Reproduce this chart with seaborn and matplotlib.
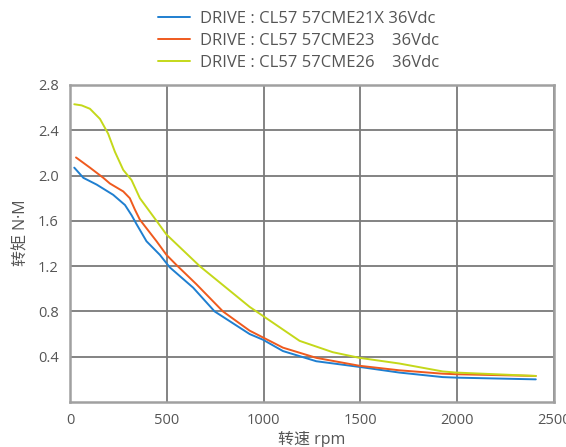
import matplotlib
matplotlib.use("Agg")
import matplotlib.pyplot as plt
import seaborn as sns
import pandas as pd

labels = ["DRIVE : CL57 57CME21X 36Vdc",
          "DRIVE : CL57 57CME23    36Vdc",
          "DRIVE : CL57 57CME26    36Vdc"]
colors = ["#1f7fd0", "#ef5a1e", "#c4d81a"]

blue_x = [22, 69, 138, 223, 284, 318, 344, 395, 464, 515, 636, 747, 928, 997, 1100, 1272, 1495, 1701, 1925, 2000, 2406]
blue_y = [2.07, 1.98, 1.92, 1.83, 1.74, 1.65, 1.57, 1.42, 1.30, 1.19, 1.01, 0.80, 0.60, 0.55, 0.45, 0.36, 0.31, 0.26, 0.22, 0.215, 0.20]

orange_x = [31, 103, 172, 206, 275, 309, 335, 361, 447, 498, 550, 653, 790, 928, 997, 1100, 1272, 1495, 1701, 1925, 2000, 2406]
orange_y = [2.16, 2.07, 1.98, 1.93, 1.86, 1.80, 1.70, 1.61, 1.42, 1.30, 1.21, 1.04, 0.80, 0.63, 0.57, 0.48, 0.39, 0.32, 0.28, 0.25, 0.245, 0.23]

green_x = [22, 60, 103, 155, 197, 232, 275, 318, 361, 447, 498, 670, 928, 997, 1186, 1357, 1495, 1701, 1925, 1993, 2406]
green_y = [2.63, 2.62, 2.59, 2.50, 2.37, 2.21, 2.05, 1.96, 1.80, 1.60, 1.48, 1.20, 0.84, 0.76, 0.54, 0.44, 0.39, 0.34, 0.27, 0.26, 0.23]

x_ticks = [0, 500, 1000, 1500, 2000, 2500]
y_ticks = [0.4, 0.8, 1.2, 1.6, 2.0, 2.4, 2.8]

frames = []
for lab, xs, ys in zip(labels, [blue_x, orange_x, green_x], [blue_y, orange_y, green_y]):
    frames.append(pd.DataFrame({"rpm": xs, "torque": ys, "series": lab}))
df = pd.concat(frames, ignore_index=True)

sns.set_theme(style="white")
plt.rcParams["font.family"] = ["Open Sans", "Noto Sans CJK SC", "DejaVu Sans"]

fig = plt.figure(figsize=(5.66, 4.47), dpi=100)
ax = fig.add_axes([70/566, 1-402/447, (554-70)/566, (402-85)/447])

sns.lineplot(data=df, x="rpm", y="torque", hue="series", hue_order=labels,
             palette=colors, ax=ax, linewidth=1.4, sort=False, estimator=None)

ax.set_xlim(0, 2500)
ax.set_ylim(0, 2.8)
ax.set_xticks(x_ticks)
ax.set_xticklabels([str(t) for t in x_ticks])
ax.set_yticks(y_ticks)
ax.set_yticklabels([f"{t:.1f}" for t in y_ticks])
ax.grid(True, color="#7a7a7a", linewidth=1.3)
ax.set_axisbelow(True)
for s in ax.spines.values():
    s.set_color("#a0a0a0")
    s.set_linewidth(1.8)
ax.tick_params(axis="both", colors="#555555", labelsize=10.5, length=0, pad=8)
ax.set_xlabel("转速 rpm", color="#555555", fontsize=11.5)
ax.xaxis.set_label_coords(0.5, -0.092)
ax.set_ylabel("转矩 N·M", color="#555555", fontsize=11.5)
ax.yaxis.set_label_coords(-0.084, 0.535)

leg = ax.legend(loc="upper left", bbox_to_anchor=(158/566, 1-11/447),
                bbox_transform=fig.transFigure, frameon=False,
                fontsize=12, handlelength=1.9, handletextpad=0.62,
                labelspacing=0.36, borderaxespad=0, borderpad=0)
for t in leg.get_texts():
    t.set_color("#555555")

fig.savefig("out.png", dpi=100)
